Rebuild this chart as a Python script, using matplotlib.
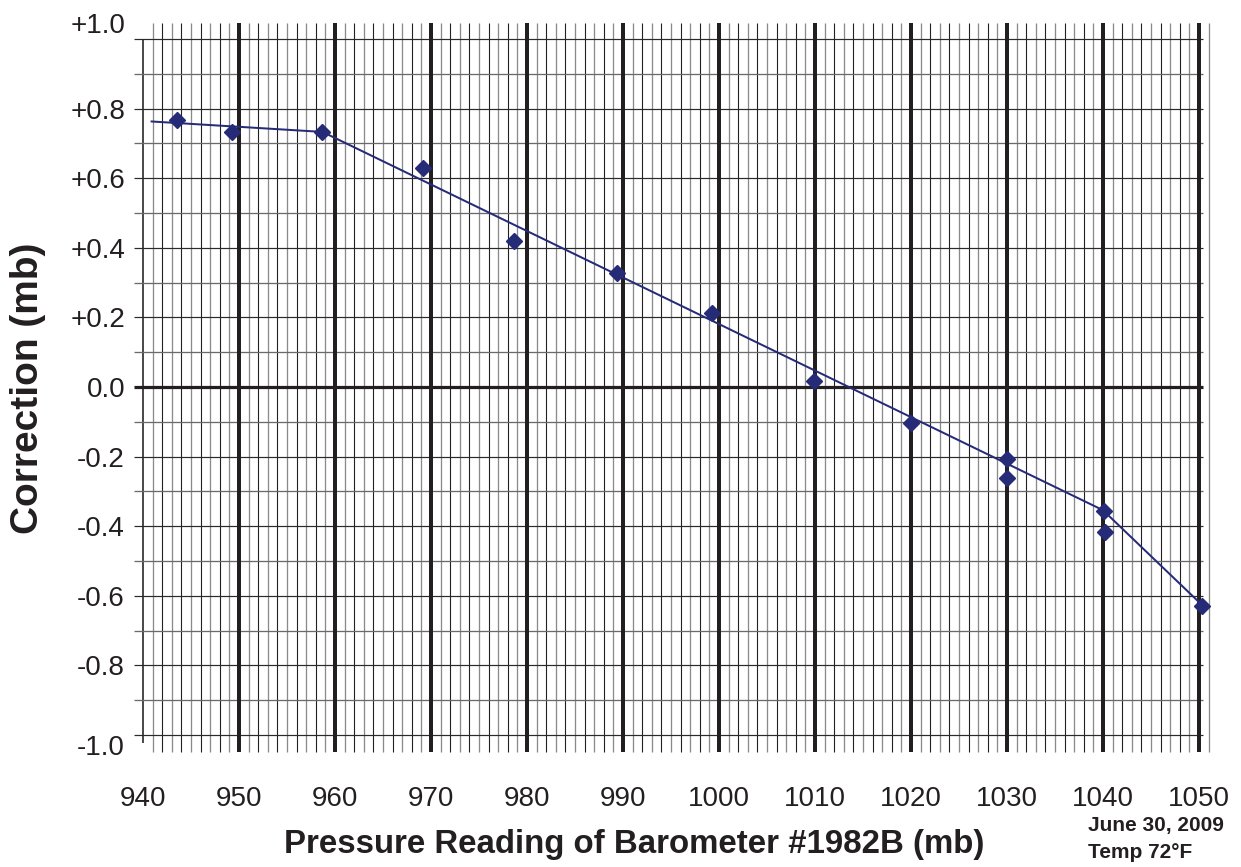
import matplotlib
matplotlib.use("Agg")
import matplotlib.pyplot as plt
from matplotlib.transforms import ScaledTranslation

# ---- data ----
pressure = [943.5, 949.3, 958.7, 969.2, 978.6, 989.4, 999.3, 1009.9,
            1020.0, 1030.0, 1030.0, 1040.1, 1040.2, 1050.3]
correction = [0.767, 0.734, 0.734, 0.629, 0.420, 0.327, 0.212, 0.017,
              -0.103, -0.208, -0.262, -0.355, -0.418, -0.628]
fit_pressure = [940.9, 958.7, 1040.0, 1050.3]
fit_correction = [0.763, 0.733, -0.354, -0.626]
x_ticks = [940, 950, 960, 970, 980, 990, 1000, 1010, 1020, 1030, 1040, 1050]
y_ticks = [-1.0, -0.8, -0.6, -0.4, -0.2, 0.0, 0.2, 0.4, 0.6, 0.8, 1.0]
y_tick_labels = ["-1.0", "-0.8", "-0.6", "-0.4", "-0.2", "0.0",
                 "+0.2", "+0.4", "+0.6", "+0.8", "+1.0"]
x_label = "Pressure Reading of Barometer #1982B (mb)"
y_label = "Correction (mb)"
note_lines = ["June 30, 2009", "Temp 72°F"]

plt.rcParams['font.family'] = ['Liberation Sans', 'DejaVu Sans']
TXT = "#231f20"
DARK = "#231f20"
GRAY = "#8a8a8a"
NAVY = "#262b78"

W, H = 1241, 867
fig = plt.figure(figsize=(W / 100, H / 100), dpi=100)
ax = fig.add_axes([130 / W, 1 - 755 / H, 1085 / W, 735 / H])
ax.set_xlim(938.65, 1051.67)
ax.set_ylim(-1.0575, 1.0546)
for s in ax.spines.values():
    s.set_visible(False)

px = 0.72  # points per pixel

# vertical graph-paper lines (every 1 mb)
for m in range(940, 1052):
    if m == 940:
        ax.vlines(m, -1.023, 1.0, color=DARK, lw=1.6 * px, zorder=1)
    elif m % 10 == 0:
        ax.vlines(m, -1.049, 1.046, color=DARK, lw=4 * px, zorder=2)
    elif m % 2 == 1:
        ax.vlines(m, -1.049, 1.046, color=GRAY, lw=1.3 * px, zorder=1)
    else:
        ax.vlines(m, -1.049, 1.046, color=DARK, lw=1.1 * px, zorder=1)

# horizontal lines (every 0.1 mb)
for k in range(-10, 11):
    v = k / 10
    if k == 0:
        ax.hlines(v, 939.06, 1050.4, color=DARK, lw=3.2 * px, zorder=2)
    elif k % 2 == 0:
        ax.hlines(v, 939.06, 1050.4, color="#2a2a2a", lw=1.2 * px, zorder=1.5)
    else:
        ax.hlines(v, 939.06, 1050.4, color="#6a6a6a", lw=1.3 * px, zorder=1.5)

# fitted line and readings
ax.plot(fit_pressure, fit_correction, color=NAVY, lw=2.0 * px, zorder=3)
ax.plot(pressure, correction, linestyle="none", marker="D", ms=8.5,
        color=NAVY, mec=NAVY, zorder=4)

# ticks
ax.set_xticks(x_ticks)
ax.set_xticklabels([str(t) for t in x_ticks])
ax.set_yticks(y_ticks)
ax.set_yticklabels(y_tick_labels)
ax.tick_params(axis="both", length=0, labelsize=20, labelcolor=TXT)
ax.tick_params(axis="x", pad=22.5)
ax.tick_params(axis="y", pad=3.6)

ylabs = ax.get_yticklabels()
ylabs[-1].set_transform(ylabs[-1].get_transform() +
                        ScaledTranslation(0, 16 / 100, fig.dpi_scale_trans))
ylabs[0].set_transform(ylabs[0].get_transform() +
                       ScaledTranslation(0, -10 / 100, fig.dpi_scale_trans))

fig.text(634 / W, 1 - 845 / H, x_label, ha="center", va="center",
         fontsize=23.8, fontweight="bold", color=TXT)
fig.text(28 / W, 1 - 388 / H, y_label, ha="center", va="center",
         rotation=90, fontsize=28, fontweight="bold", color=TXT)
fig.text(1088 / W, 1 - 826 / H, note_lines[0], ha="left", va="center",
         fontsize=15, fontweight="bold", color=TXT)
fig.text(1088 / W, 1 - 853 / H, note_lines[1], ha="left", va="center",
         fontsize=15, fontweight="bold", color=TXT)

fig.savefig("out.png", dpi=100, facecolor="white")
